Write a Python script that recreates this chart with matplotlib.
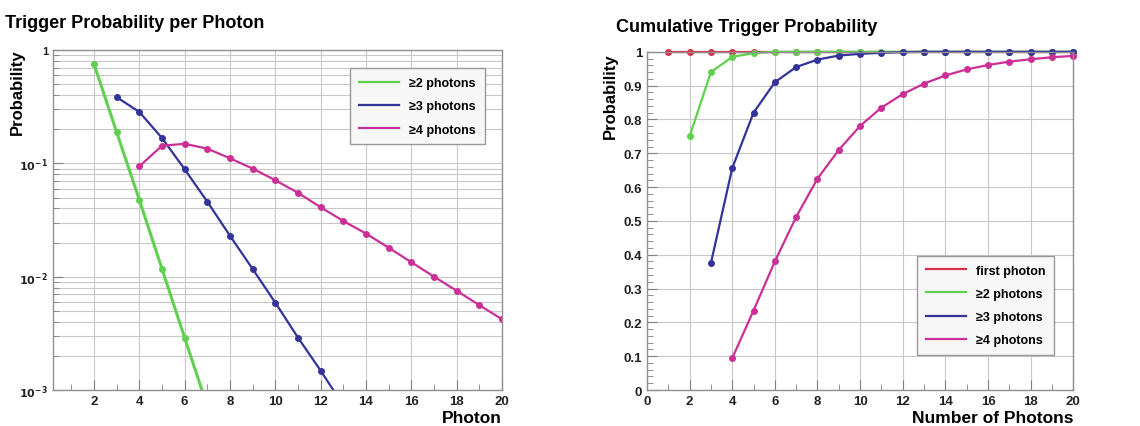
import numpy as np
import matplotlib.pyplot as plt
from matplotlib.lines import Line2D
from matplotlib.ticker import FixedLocator, LogLocator, NullFormatter, MultipleLocator, FuncFormatter

plt.rcParams['font.family'] = ['Liberation Sans', 'DejaVu Sans']

# per-photon trigger probability (log plot)
x_ge2 = [2, 3, 4, 5, 6, 7]
p_ge2 = [0.76, 0.19, 0.048, 0.0118, 0.0029, 0.00072]
x_ge3 = [3, 4, 5, 6, 7, 8, 9, 10, 11, 12, 13]
p_ge3 = [0.385, 0.285, 0.168, 0.089, 0.046, 0.023, 0.0117, 0.0059, 0.0029, 0.00148, 0.00073]
x_ge4 = list(range(4, 21))
p_ge4 = [0.094, 0.143, 0.149, 0.135, 0.111, 0.090, 0.071, 0.055, 0.041, 0.031,
         0.024, 0.018, 0.0134, 0.0100, 0.0075, 0.0056, 0.0042]

# cumulative trigger probability
cx_first = list(range(1, 21))
c_first = [1.0] * 20
cx_ge2 = list(range(2, 21))
c_ge2 = [0.75, 0.94, 0.985, 0.996] + [1.0] * 15
cx_ge3 = list(range(3, 21))
c_ge3 = [0.375, 0.656, 0.82, 0.91, 0.955, 0.977, 0.989, 0.994, 0.997, 0.999] + [1.0] * 8
cx_ge4 = list(range(4, 21))
c_ge4 = [0.094, 0.235, 0.38, 0.512, 0.625, 0.71, 0.781, 0.835, 0.875, 0.906,
         0.93, 0.948, 0.961, 0.971, 0.978, 0.984, 0.988]

c_red = '#d9304a'
c_green = '#5fd14f'
c_blue = '#33339a'
c_mag = '#cc2f96'
grid_c = '#c8c8c8'

fig = plt.figure(figsize=(11.4, 4.27), dpi=100)
ax1 = fig.add_axes([0.0465, 0.0843, 0.394, 0.796])
ax2 = fig.add_axes([0.5675, 0.0843, 0.374, 0.792])


def style(ax):
    for s in ax.spines.values():
        s.set_color('#909090')
        s.set_linewidth(1.0)
    ax.tick_params(which='both', direction='in', colors='#808080',
                   labelcolor='#222222', labelsize=9.5, top=False, right=False)
    ax.tick_params(which='major', length=7)
    ax.tick_params(which='minor', length=4)
    for lab in ax.get_xticklabels() + ax.get_yticklabels():
        lab.set_fontweight('bold')


def legend_lines(ax, colors, labels, **lkw):
    handles = [Line2D([], [], color=c, lw=1.6) for c in colors]
    leg = ax.legend(handles, labels, prop={'weight': 'bold', 'size': 9},
                    fancybox=False, edgecolor='#999999', framealpha=1,
                    handlelength=3.2, borderpad=0.7, labelspacing=0.9, **lkw)
    leg.get_frame().set_facecolor('#f7f7f7')
    return leg


kw = dict(lw=1.6, marker='o', ms=4)

# left panel
ax1.plot(x_ge2, p_ge2, color=c_green, lw=2.2, marker='o', ms=4)
ax1.plot(x_ge3, p_ge3, color=c_blue, **kw)
ax1.plot(x_ge4, p_ge4, color=c_mag, **kw)
ax1.set_yscale('log')
ax1.set_xlim(0.2, 20)
ax1.set_ylim(1e-3, 1)
ax1.xaxis.set_major_locator(MultipleLocator(2))
ax1.xaxis.set_minor_locator(MultipleLocator(1))
ax1.yaxis.set_major_locator(FixedLocator([1e-3, 1e-2, 1e-1, 1]))
ax1.yaxis.set_minor_locator(LogLocator(base=10, subs=np.arange(2, 10)))
ax1.yaxis.set_minor_formatter(NullFormatter())
ax1.set_yticklabels(['$\\mathbf{10^{-3}}$', '$\\mathbf{10^{-2}}$', '$\\mathbf{10^{-1}}$', '1'])
ax1.grid(True, which='both', color=grid_c, lw=0.8)
ax1.grid(False, which='minor', axis='x')
ax1.set_axisbelow(True)
style(ax1)
ax1.tick_params(axis='y', labelsize=8)
ax1.set_xlabel('Photon', fontsize=12.5, fontweight='bold', loc='right', labelpad=2)
legend_lines(ax1, [c_green, c_blue, c_mag], ['≥2 photons', '≥3 photons', '≥4 photons'],
             loc='upper right', bbox_to_anchor=(0.975, 0.965))
fig.text(0.004, 0.935, 'Trigger Probability per Photon', fontsize=13, fontweight='bold')
fig.text(0.015, 0.885, 'Probability', fontsize=12, fontweight='bold', rotation=90,
         ha='center', va='top')

# right panel
ax2.plot(cx_first, c_first, color=c_red, clip_on=False, **kw)
ax2.plot(cx_ge2, c_ge2, color=c_green, clip_on=False, **kw)
ax2.plot(cx_ge3, c_ge3, color=c_blue, clip_on=False, **kw)
ax2.plot(cx_ge4, c_ge4, color=c_mag, clip_on=False, **kw)
ax2.set_xlim(0, 20)
ax2.set_ylim(0, 1)
ax2.xaxis.set_major_locator(MultipleLocator(2))
ax2.xaxis.set_minor_locator(MultipleLocator(1))
ax2.yaxis.set_major_locator(MultipleLocator(0.1))
ax2.yaxis.set_minor_locator(MultipleLocator(0.02))
ax2.yaxis.set_major_formatter(FuncFormatter(lambda v, p: '%g' % round(v, 1)))
ax2.grid(True, which='major', color=grid_c, lw=0.8)
ax2.set_axisbelow(True)
style(ax2)
ax2.set_xlabel('Number of Photons', fontsize=12.5, fontweight='bold', loc='right', labelpad=2)
legend_lines(ax2, [c_red, c_green, c_blue, c_mag],
             ['first photon', '≥2 photons', '≥3 photons', '≥4 photons'],
             loc='lower right', bbox_to_anchor=(0.97, 0.085))
fig.text(0.54, 0.925, 'Cumulative Trigger Probability', fontsize=13, fontweight='bold')
fig.text(0.535, 0.875, 'Probability', fontsize=12, fontweight='bold', rotation=90,
         ha='center', va='top')

fig.savefig('out.png', dpi=100)
